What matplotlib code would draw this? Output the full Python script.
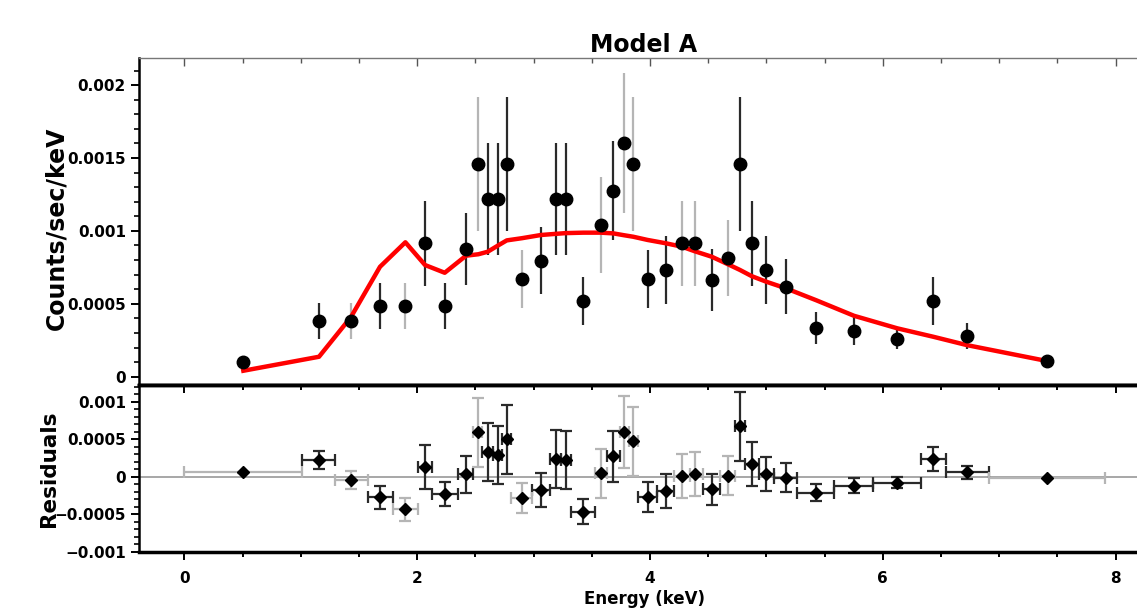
import numpy as np
import matplotlib
matplotlib.use("Agg")
import matplotlib.pyplot as plt
from matplotlib.ticker import MultipleLocator, FuncFormatter

# -------------------------------
# Data
# -------------------------------
energy = [0.507, 1.157, 1.432, 1.681, 1.899, 2.068, 2.237, 2.42, 2.526, 2.606,
          2.695, 2.77, 2.90, 3.064, 3.193, 3.279, 3.428, 3.577, 3.686, 3.78,
          3.857, 3.98, 4.138, 4.273, 4.387, 4.531, 4.674, 4.774, 4.874, 4.998,
          5.169, 5.427, 5.753, 6.125, 6.435, 6.722, 7.409]

bin_edges = [0.0, 1.014, 1.295, 1.581, 1.796, 2.01, 2.13, 2.35, 2.48, 2.56,
             2.65, 2.73, 2.81, 2.99, 3.14, 3.24, 3.32, 3.53, 3.63, 3.74,
             3.82, 3.90, 4.06, 4.21, 4.34, 4.46, 4.60, 4.73, 4.82, 4.94,
             5.07, 5.26, 5.58, 5.92, 6.33, 6.54, 6.91, 7.91]

flux = [0.000103, 0.000384, 0.000384, 0.000485, 0.000485, 0.000915, 0.000485,
        0.000876, 0.001459, 0.001217, 0.001217, 0.001459, 0.000668, 0.000796,
        0.001217, 0.001217, 0.000521, 0.00104, 0.001276, 0.0016, 0.001459,
        0.000668, 0.000732, 0.000915, 0.000915, 0.000663, 0.000812, 0.001459,
        0.000915, 0.000732, 0.000617, 0.000332, 0.000316, 0.000259, 0.000521,
        0.000281, 0.000108]

flux_err = [0.00001, 0.000124, 0.000124, 0.000157, 0.000157, 0.00029, 0.000157,
            0.00025, 0.00046, 0.000385, 0.000385, 0.00046, 0.0002, 0.00023,
            0.000385, 0.000385, 0.000165, 0.00033, 0.00034, 0.00048, 0.00046,
            0.0002, 0.00023, 0.00029, 0.00029, 0.00021, 0.00026, 0.00046,
            0.00029, 0.00023, 0.00019, 0.00011, 0.0001, 0.00007, 0.000165,
            0.00009, 0.00001]

model = [0.000041, 0.000137, 0.00041, 0.000754, 0.000922, 0.000766, 0.000713,
         0.00083, 0.00084, 0.000857, 0.0009, 0.000935, 0.00095, 0.000972,
         0.00098, 0.000985, 0.000988, 0.000988, 0.000983, 0.00097, 0.00096,
         0.000938, 0.000915, 0.000892, 0.00086, 0.000823, 0.00077, 0.000732,
         0.00069, 0.000652, 0.000606, 0.000525, 0.000418, 0.000332, 0.000274,
         0.000217, 0.000108]

resid = [0.000059, 0.000223, -0.000044, -0.000275, -0.000435, 0.000133,
         -0.00023, 0.000032, 0.00059, 0.000333, 0.00029, 0.0005, -0.000289,
         -0.000178, 0.000232, 0.000222, -0.000467, 0.000044, 0.000276, 0.0006,
         0.000476, -0.000275, -0.00019, 0.00001, 0.000036, -0.000169, 0.00001,
         0.000676, 0.00017, 0.000036, -0.000013, -0.000213, -0.00012, -0.00008,
         0.000236, 0.000059, -0.000013]

# which spectrum each bin belongs to (drawn with lighter error bars)
group = [1, 0, 1, 0, 1, 0, 0, 0, 1, 0, 0, 0, 1, 0, 0, 0, 0, 1, 0, 1,
         1, 0, 0, 1, 1, 0, 1, 0, 0, 0, 0, 0, 0, 0, 0, 0, 1]

# -------------------------------
# Processing
# -------------------------------
energy = np.array(energy)
edges = np.array(bin_edges)
flux = np.array(flux)
flux_err = np.array(flux_err)
model = np.array(model)
resid = np.array(resid)
group = np.array(group)
xerr = np.vstack([energy - edges[:-1], edges[1:] - energy])

plt.rcParams['font.family'] = ['DejaVu Sans']
plt.rcParams['font.weight'] = 'bold'

err_colors = {0: '#2a2a2a', 1: '#b5b5b5'}

fig = plt.figure(figsize=(11.37, 6.13), dpi=100)
ax1 = fig.add_axes([0.1223, 0.3719, 0.8883, 0.5340])
ax2 = fig.add_axes([0.1223, 0.0987, 0.8883, 0.2732])

# -------------------------------
# Top panel: spectrum + model
# -------------------------------
for g, col in err_colors.items():
    m = group == g
    ax1.errorbar(energy[m], flux[m], yerr=flux_err[m], fmt='none',
                 ecolor=col, elinewidth=1.6, capsize=0, zorder=2)
ax1.plot(energy, model, color='red', lw=3.2, zorder=3)
ax1.plot(energy, flux, 'o', color='black', ms=9, zorder=4)

ax1.set_xlim(-0.389, 8.288)
ax1.set_ylim(-0.0000569, 0.002188)
ax1.set_title("Model A", fontsize=17, fontweight='bold', pad=4)
ax1.set_ylabel("Counts/sec/keV", fontsize=17, fontweight='bold')
ax1.yaxis.set_label_coords(-0.0697, 0.48)

# -------------------------------
# Bottom panel: residuals
# -------------------------------
ax2.axhline(0, color='#a0a0a0', lw=1.3, zorder=1)
for g, col in err_colors.items():
    m = group == g
    ax2.errorbar(energy[m], resid[m], yerr=flux_err[m], xerr=xerr[:, m],
                 fmt='none', ecolor=col, elinewidth=1.6, capsize=4,
                 capthick=1.6, zorder=2)
ax2.plot(energy, resid, 'D', color='black', ms=6.5, zorder=4)

ax2.set_xlim(-0.389, 8.288)
ax2.set_ylim(-0.00101, 0.001223)
ax2.set_xlabel("Energy (keV)", fontsize=12, fontweight='bold', labelpad=3)
ax2.set_ylabel("Residuals", fontsize=15.5, fontweight='bold')
ax2.yaxis.set_label_coords(-0.079, 0.5)

# -------------------------------
# Ticks & spines
# -------------------------------
fmt = FuncFormatter(lambda v, p: ('%g' % v).replace('-', '\u2212') if abs(v) > 1e-12 else '0')

for ax in (ax1, ax2):
    ax.xaxis.set_major_locator(MultipleLocator(2))
    ax.xaxis.set_minor_locator(MultipleLocator(0.5))
    ax.yaxis.set_major_locator(MultipleLocator(0.0005))
    ax.yaxis.set_minor_locator(MultipleLocator(0.0001))
    ax.yaxis.set_major_formatter(fmt)
    ax.tick_params(axis='y', which='major', direction='out', length=6,
                   width=1.4, labelsize=11, right=False)
    ax.tick_params(axis='y', which='minor', direction='out', length=3.5,
                   width=1.2, right=False)
    ax.spines['right'].set_visible(False)
    ax.spines['left'].set_linewidth(1.8)
    for lab in ax.get_yticklabels():
        lab.set_fontweight('bold')

ax1.tick_params(axis='x', which='both', direction='in', bottom=False,
                top=True, labelbottom=False, width=1.0, color='#555555')
ax1.tick_params(axis='x', which='major', length=6)
ax1.tick_params(axis='x', which='minor', length=3.5)
ax1.spines['top'].set_linewidth(1.0)
ax1.spines['top'].set_color('#777777')
ax1.spines['bottom'].set_linewidth(2.5)

ax2.tick_params(axis='x', which='both', direction='out', top=False,
                bottom=True, width=1.4, labelsize=11, pad=7)
ax2.tick_params(axis='x', which='major', length=6)
ax2.tick_params(axis='x', which='minor', length=3.5)
ax2.spines['top'].set_linewidth(2.5)
ax2.spines['bottom'].set_linewidth(2.5)

sec = ax2.secondary_xaxis('top')
sec.xaxis.set_major_locator(MultipleLocator(2))
sec.xaxis.set_minor_locator(MultipleLocator(0.5))
sec.tick_params(axis='x', which='both', direction='in', labeltop=False, width=1.4)
sec.tick_params(axis='x', which='major', length=6)
sec.tick_params(axis='x', which='minor', length=3.5)
sec.spines['top'].set_linewidth(2.5)

plt.savefig("out.png", dpi=100)
plt.close()
